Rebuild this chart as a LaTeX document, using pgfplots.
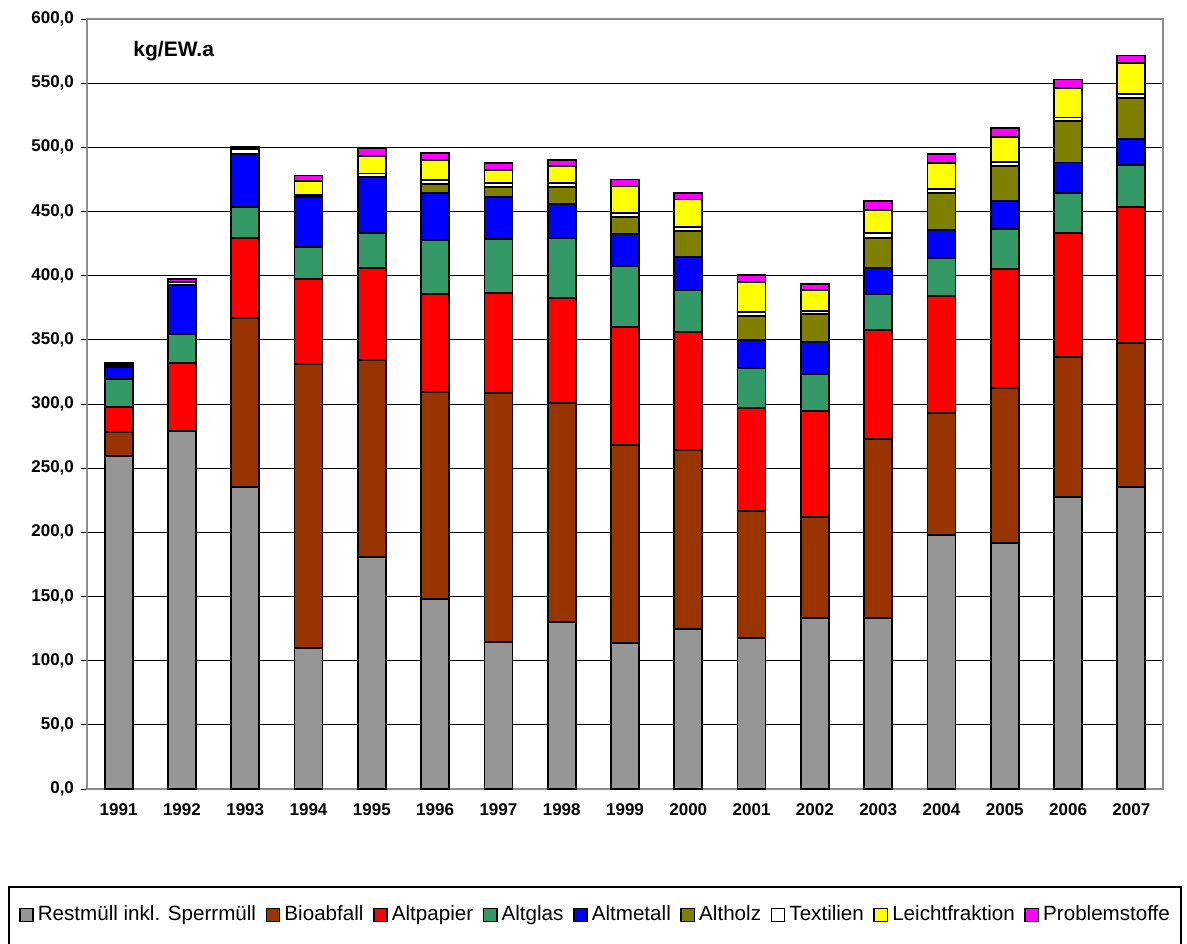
\documentclass[border=0pt]{standalone}
\usepackage{fontspec}
\setmainfont{Liberation Sans}
\usepackage{pgfplots}
\usepackage{pgfplotstable}
\pgfplotsset{compat=1.18}
\definecolor{cRest}{RGB}{150,150,150}
\definecolor{cBio}{RGB}{153,51,0}
\definecolor{cPapier}{RGB}{255,0,0}
\definecolor{cGlas}{RGB}{51,153,102}
\definecolor{cMetall}{RGB}{0,0,255}
\definecolor{cHolz}{RGB}{128,128,0}
\definecolor{cTextil}{RGB}{255,255,255}
\definecolor{cLeicht}{RGB}{255,255,0}
\definecolor{cProblem}{RGB}{255,0,255}
\pgfplotstableread{
x Rest Bio Papier Glas Metall Holz Textil Leicht Problem
0 259.5 18.7 19.7 21.8 9.0 0 2.0 0 1.5
1 278.7 0 53.5 22.3 38.2 0 2.5 0 2.0
2 235.5 131.5 62.4 24.1 41.3 0 4.0 0 1.5
3 109.6 221.6 66.5 24.9 38.9 0 1.5 11.0 4.0
4 180.5 153.8 71.9 26.8 43.6 0 3.0 13.5 6.5
5 148.0 161.6 76.1 42.1 36.4 7.0 3.5 15.6 5.0
6 114.8 193.5 78.5 41.8 32.9 7.5 3.0 10.5 5.5
7 129.9 170.6 81.9 46.7 26.5 13.3 3.0 13.5 4.5
8 113.5 154.3 92.0 47.7 24.7 13.5 3.0 20.8 5.5
9 124.9 139.3 91.7 32.9 26.0 20.2 2.7 21.7 5.3
10 117.9 98.7 80.5 30.7 22.1 18.7 3.3 23.4 5.2
11 133.0 78.7 83.1 28.4 24.9 22.0 2.6 16.1 4.7
12 133.0 139.5 85.2 28.0 20.0 23.7 3.8 18.2 6.5
13 197.9 94.9 91.6 29.1 22.1 29.1 2.8 20.5 6.5
14 191.4 121.3 92.3 31.1 21.9 27.5 3.3 19.5 7.0
15 227.8 109.1 96.6 31.2 23.5 32.6 2.5 23.0 6.5
16 235.1 112.7 105.5 33.0 20.0 31.9 3.4 24.0 5.9
}\data
\pgfplotsset{
  seg/.style={fill=#1, draw=black, line width=0.9pt,
    legend image code/.code={\draw[##1, draw=black, line width=0.8pt] (0pt,-3.3pt) rectangle (6.6pt,3.3pt);}},
}
\begin{document}
\begin{tikzpicture}
\begin{axis}[
  scale only axis, width=538pt, height=385pt,
  xmin=-0.5, xmax=16.5, ymin=0, ymax=600,
  ybar stacked, bar width=14pt,
  xtick={0,...,16},
  xticklabels={1991,1992,1993,1994,1995,1996,1997,1998,1999,2000,2001,2002,2003,2004,2005,2006,2007},
  minor xtick={-0.5,0.5,...,16.5},
  ytick={0,50,...,600},
  xtick pos=bottom, ytick pos=left,
  tick align=outside,
  major tick length=3pt, minor tick length=3pt,
  xtick style={draw=none},
  minor tick style={black, line width=0.5pt},
  ytick style={black, line width=0.5pt},
  ymajorgrids, major grid style={black, line width=0.5pt},
  axis line style={draw=black!45, line width=0.7pt},
  ticklabel style={font=\fontsize{8.5}{10}\selectfont\bfseries},
  yticklabel style={/pgf/number format/.cd, fixed, fixed zerofill, precision=1, use comma, 1000 sep={}, assume math mode=true},
  xticklabel style={yshift=-1pt},
  legend columns=9,
  legend style={draw=none, fill=none, at={(axis description cs:0.4735,-0.1636)}, anchor=center,
    font=\fontsize{10.3}{12}\selectfont, inner sep=0pt,
    /tikz/every even column/.append style={column sep=2.8pt}},
  legend cell align=left,
  clip=false,
]
\addplot[seg=cRest] table[x=x,y=Rest]{\data};
\addlegendentry{Restmüll inkl. Sperrmüll}
\addplot[seg=cBio] table[x=x,y=Bio]{\data};
\addlegendentry{Bioabfall}
\addplot[seg=cPapier] table[x=x,y=Papier]{\data};
\addlegendentry{Altpapier}
\addplot[seg=cGlas] table[x=x,y=Glas]{\data};
\addlegendentry{Altglas}
\addplot[seg=cMetall] table[x=x,y=Metall]{\data};
\addlegendentry{Altmetall}
\addplot[seg=cHolz] table[x=x,y=Holz]{\data};
\addlegendentry{Altholz}
\addplot[seg=cTextil] table[x=x,y=Textil]{\data};
\addlegendentry{Textilien}
\addplot[seg=cLeicht] table[x=x,y=Leicht]{\data};
\addlegendentry{Leichtfraktion}
\addplot[seg=cProblem] table[x=x,y=Problem]{\data};
\addlegendentry{Problemstoffe}
\node[anchor=west, inner sep=0pt, font=\fontsize{10.5}{12}\selectfont\bfseries] at (rel axis cs:0.0428,0.958) {kg/EW.a};
\end{axis}
\pgfresetboundingbox
\path[use as bounding box] ([shift={(-43.5pt,-77pt)}]current axis.south west) rectangle ++(593.5pt,471.5pt);
\draw[black, line width=0.6pt] ([shift={(-39pt,-49pt)}]current axis.south west) rectangle ([shift={(547pt,-100pt)}]current axis.south west);
\end{tikzpicture}
\end{document}
